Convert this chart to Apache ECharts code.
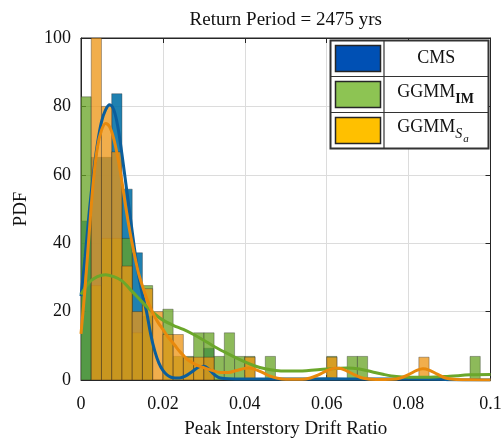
<!DOCTYPE html>
<html>
<head>
<meta charset="utf-8">
<script src="https://cdn.jsdelivr.net/npm/echarts@6/dist/echarts.min.js"></script>
<style>
  html, body { margin: 0; padding: 0; background: #ffffff; }
  #chart { width: 503px; height: 440px; }
</style>
</head>
<body>
<div id="chart"></div>
<script>
// Histogram bins: 40 bins of equal width starting at zero (PDF-normalised heights)
const binStart = 0;
const binWidth = 0.0025;

const cmsHist = [46.5, 65.1, 65.1, 83.7, 55.8, 37.2, 18.6, 0, 0, 0,
                 0, 0, 9.3, 0, 0, 0, 0, 0, 0, 0,
                 0, 0, 0, 0, 0, 0, 0, 0, 0, 0,
                 0, 0, 0, 0, 0, 0, 0, 0, 0, 0];

const imHist = [82.8, 27.6, 41.4, 41.4, 41.4, 13.8, 27.6, 0, 20.7, 6.9,
                6.9, 13.8, 13.8, 6.9, 13.8, 6.9, 6.9, 0, 6.9, 0,
                0, 0, 0, 0, 6.9, 0, 6.9, 6.9, 0, 0,
                0, 0, 0, 0, 0, 0, 0, 0, 6.9, 0];

const saHist = [0, 100, 80, 66.7, 33.3, 20, 26.7, 20, 13.3, 13.3,
                6.67, 6.67, 6.67, 0, 0, 0, 6.67, 0, 0, 0,
                0, 0, 0, 0, 6.67, 0, 0, 0, 0, 0,
                0, 0, 0, 6.67, 0, 0, 0, 0, 0, 0];

// Kernel density curves, [drift ratio, PDF]
const cmsKde = [[0, 24.5], [0.001, 36], [0.002, 49], [0.003, 60], [0.004, 69], [0.005, 75.5],
  [0.006, 79], [0.007, 80.5], [0.008, 79], [0.009, 74], [0.010, 66], [0.011, 57], [0.012, 48],
  [0.013, 39], [0.014, 31], [0.015, 25], [0.016, 20], [0.017, 13.5], [0.018, 8.5], [0.019, 5],
  [0.020, 2.8], [0.021, 1.5], [0.022, 0.8], [0.023, 0.6], [0.024, 0.6], [0.025, 0.9],
  [0.026, 1.5], [0.027, 2.3], [0.028, 3.2], [0.029, 3.9], [0.030, 4.0], [0.031, 3.4],
  [0.032, 2.2], [0.033, 1.2], [0.034, 0.6], [0.036, 0.35], [0.040, 0.3], [0.050, 0.3],
  [0.060, 0.35], [0.070, 0.3], [0.080, 0.3], [0.088, 0.2], [0.090, 0.05], [0.100, 0]];

const imKde = [[0, 25], [0.002, 28.5], [0.004, 30.2], [0.006, 30.8], [0.008, 30.2], [0.010, 29],
  [0.012, 26.5], [0.014, 24], [0.016, 21.5], [0.018, 19.3], [0.020, 17.5], [0.0225, 16],
  [0.025, 14.8], [0.0275, 13.3], [0.030, 11.6], [0.0325, 9.8], [0.035, 8.2], [0.0375, 6.7],
  [0.040, 5.3], [0.0425, 4.1], [0.045, 3.3], [0.0475, 2.8], [0.050, 2.6], [0.055, 2.7],
  [0.060, 3.2], [0.065, 3.5], [0.068, 3.2], [0.071, 2.4], [0.074, 1.6], [0.077, 1.0],
  [0.080, 0.8], [0.085, 0.8], [0.090, 1.1], [0.095, 1.5], [0.100, 1.6]];

const saKde = [[0, 13.5], [0.001, 27], [0.002, 43], [0.003, 58], [0.004, 68], [0.005, 73],
  [0.006, 75], [0.007, 74], [0.008, 70.5], [0.009, 65], [0.010, 58], [0.011, 50], [0.012, 43],
  [0.013, 37], [0.014, 31.5], [0.015, 27.5], [0.016, 24], [0.017, 21], [0.018, 18.5],
  [0.019, 16.5], [0.020, 14.8], [0.021, 13], [0.022, 11.5], [0.023, 10], [0.024, 8.5],
  [0.025, 7.2], [0.026, 6], [0.027, 5.2], [0.028, 4.5], [0.030, 3.6], [0.032, 2.8],
  [0.034, 2.2], [0.036, 2.2], [0.038, 2.8], [0.040, 3.4], [0.041, 3.5], [0.042, 3.3],
  [0.044, 2.4], [0.046, 1.2], [0.048, 0.5], [0.050, 0.2], [0.054, 0.2], [0.056, 0.6],
  [0.058, 1.5], [0.060, 2.7], [0.062, 3.4], [0.063, 3.4], [0.065, 2.6], [0.067, 1.4],
  [0.069, 0.5], [0.072, 0.15], [0.076, 0.2], [0.078, 0.6], [0.080, 1.6], [0.082, 2.8],
  [0.0835, 3.3], [0.085, 2.9], [0.087, 1.7], [0.089, 0.6], [0.091, 0.2], [0.095, 0.05],
  [0.100, 0]];

const xTickLabels = ['0', '0.02', '0.04', '0.06', '0.08', '0.1'];
const yTickLabels = ['0', '20', '40', '60', '80', '100'];

const titleText = 'Return Period = 2475 yrs';
const xName = 'Peak Interstory Drift Ratio';
const yName = 'PDF';

const serif = '"Liberation Serif", "DejaVu Serif", serif';
const axisColor = '#262626';

// [left edge, right edge, height] for every non-empty bin
function binRows(hist) {
  const rows = [];
  hist.forEach(function (h, i) {
    if (h > 0) {
      const x0 = binStart + i * binWidth;
      rows.push([x0, x0 + binWidth, h]);
    }
  });
  return rows;
}

function histRenderer(fill) {
  return function (params, api) {
    const top = api.coord([api.value(0), api.value(2)]);
    const bottom = api.coord([api.value(1), 0]);
    return {
      type: 'rect',
      shape: { x: top[0], y: top[1], width: bottom[0] - top[0], height: bottom[1] - top[1] },
      style: { fill: fill, stroke: 'rgba(40,40,40,0.45)', lineWidth: 0.8 }
    };
  };
}

function histSeries(name, hist, fill) {
  return {
    name: name,
    type: 'custom',
    xAxisIndex: 0,
    yAxisIndex: 0,
    clip: true,
    renderItem: histRenderer(fill),
    encode: { x: [0, 1], y: 2 },
    data: binRows(hist)
  };
}

function kdeSeries(name, data, color) {
  return {
    name: name,
    type: 'line',
    xAxisIndex: 0,
    yAxisIndex: 0,
    data: data,
    smooth: 0.35,
    showSymbol: false,
    clip: true,
    lineStyle: { color: color, width: 3 },
    itemStyle: { color: color }
  };
}

const chart = echarts.init(document.getElementById('chart'), null, { renderer: 'canvas' });

const gridLeft = 81, gridRight = 12.5, gridTop = 38, gridBottom = 60;
const plotCenterX = gridLeft + (503 - gridLeft - gridRight) / 2;

// Table-style legend: swatch column and label column
const legendX = 330.5, legendY = 40.5, legendW = 158, legendH = 108;
const colSplit = 384, rowH = legendH / 3;
const legendRows = [
  { color: '#0050b4' },
  { color: '#8dc453' },
  { color: '#ffc000' }
];

const legendGraphics = [];
legendGraphics.push({
  type: 'rect', z: 100,
  shape: { x: legendX, y: legendY, width: legendW, height: legendH },
  style: { fill: '#ffffff', stroke: '#333333', lineWidth: 2 }
});
legendGraphics.push({
  type: 'line', z: 101,
  shape: { x1: colSplit, y1: legendY, x2: colSplit, y2: legendY + legendH },
  style: { stroke: '#333333', lineWidth: 1.2 }
});
for (let r = 1; r < 3; r++) {
  legendGraphics.push({
    type: 'line', z: 101,
    shape: { x1: legendX, y1: legendY + r * rowH, x2: legendX + legendW, y2: legendY + r * rowH },
    style: { stroke: '#333333', lineWidth: 1.2 }
  });
}
legendRows.forEach(function (row, r) {
  legendGraphics.push({
    type: 'rect', z: 102,
    shape: { x: legendX + 5, y: legendY + r * rowH + 5, width: 45, height: rowH - 10 },
    style: { fill: row.color, stroke: '#262626', lineWidth: 1.5 }
  });
});
const labelCx = (colSplit + legendX + legendW) / 2;
legendGraphics.push({
  type: 'text', z: 103,
  style: { text: 'CMS', x: labelCx, y: legendY + rowH * 0.5, align: 'center', verticalAlign: 'middle',
           font: '18px ' + serif, fill: '#111111' }
});
legendGraphics.push({
  type: 'text', z: 103,
  style: { text: 'GGMM', x: labelCx - 10, y: legendY + rowH * 1.5 - 2, align: 'center', verticalAlign: 'middle',
           font: '18px ' + serif, fill: '#111111' }
});
legendGraphics.push({
  type: 'text', z: 103,
  style: { text: 'IM', x: labelCx + 19, y: legendY + rowH * 1.5 + 5, align: 'left', verticalAlign: 'middle',
           font: 'bold 14px ' + serif, fill: '#111111' }
});
legendGraphics.push({
  type: 'text', z: 103,
  style: { text: 'GGMM', x: labelCx - 10, y: legendY + rowH * 2.5 - 3, align: 'center', verticalAlign: 'middle',
           font: '18px ' + serif, fill: '#111111' }
});
legendGraphics.push({
  type: 'text', z: 103,
  style: { text: 'S', x: labelCx + 19, y: legendY + rowH * 2.5 + 4, align: 'left', verticalAlign: 'middle',
           font: 'italic 14px ' + serif, fill: '#111111' }
});
legendGraphics.push({
  type: 'text', z: 103,
  style: { text: 'a', x: labelCx + 27, y: legendY + rowH * 2.5 + 9, align: 'left', verticalAlign: 'middle',
           font: 'italic 11px ' + serif, fill: '#111111' }
});
legendGraphics.push({
  type: 'text', z: 103,
  style: { text: titleText, x: plotCenterX, y: 20, align: 'center', verticalAlign: 'middle',
           font: '19px ' + serif, fill: '#111111' }
});

const baseAxisLine = { show: true, onZero: false, lineStyle: { color: axisColor, width: 1 } };
const baseTick = { show: true, inside: true, length: 5, lineStyle: { color: axisColor, width: 1 } };

chart.setOption({
  animation: false,
  backgroundColor: '#ffffff',
  grid: {
    left: gridLeft, right: gridRight, top: gridTop, bottom: gridBottom,
    outerBoundsMode: 'none', containLabel: false,
    show: true, borderColor: axisColor, borderWidth: 1, backgroundColor: 'transparent'
  },
  xAxis: [
    {
      type: 'value', min: 0, max: 0.1, interval: 0.02, position: 'bottom',
      axisLine: baseAxisLine, axisTick: baseTick,
      axisLabel: {
        color: '#111111', fontFamily: serif, fontSize: 18, margin: 15,
        formatter: function (v, i) { return xTickLabels[i]; }
      },
      splitLine: { show: true, lineStyle: { color: '#dcdcdc', width: 1 } },
      name: xName, nameLocation: 'middle', nameGap: 40,
      nameTextStyle: { color: '#111111', fontFamily: serif, fontSize: 19 }
    },
    {
      type: 'value', min: 0, max: 0.1, interval: 0.02, position: 'top',
      axisLine: baseAxisLine, axisTick: baseTick,
      axisLabel: { show: false }, splitLine: { show: false }
    }
  ],
  yAxis: [
    {
      type: 'value', min: 0, max: 100, interval: 20, position: 'left',
      axisLine: baseAxisLine, axisTick: baseTick,
      axisLabel: {
        color: '#111111', fontFamily: serif, fontSize: 18, margin: 10,
        formatter: function (v, i) { return yTickLabels[i]; }
      },
      splitLine: { show: true, lineStyle: { color: '#dcdcdc', width: 1 } },
      name: yName, nameLocation: 'middle', nameGap: 50, nameRotate: 90,
      nameTextStyle: { color: '#111111', fontFamily: serif, fontSize: 19 }
    },
    {
      type: 'value', min: 0, max: 100, interval: 20, position: 'right',
      axisLine: baseAxisLine, axisTick: baseTick,
      axisLabel: { show: false }, splitLine: { show: false }
    }
  ],
  graphic: legendGraphics,
  series: [
    histSeries('CMS', cmsHist, 'rgba(0,111,166,0.88)'),
    histSeries('GGMM_IM', imHist, 'rgba(103,163,35,0.75)'),
    histSeries('GGMM_Sa', saHist, 'rgba(236,148,20,0.76)'),
    kdeSeries('CMS', cmsKde, '#0b5e9c'),
    kdeSeries('GGMM_IM', imKde, '#6ba72b'),
    kdeSeries('GGMM_Sa', saKde, '#e8890c')
  ]
});
</script>
</body>
</html>
